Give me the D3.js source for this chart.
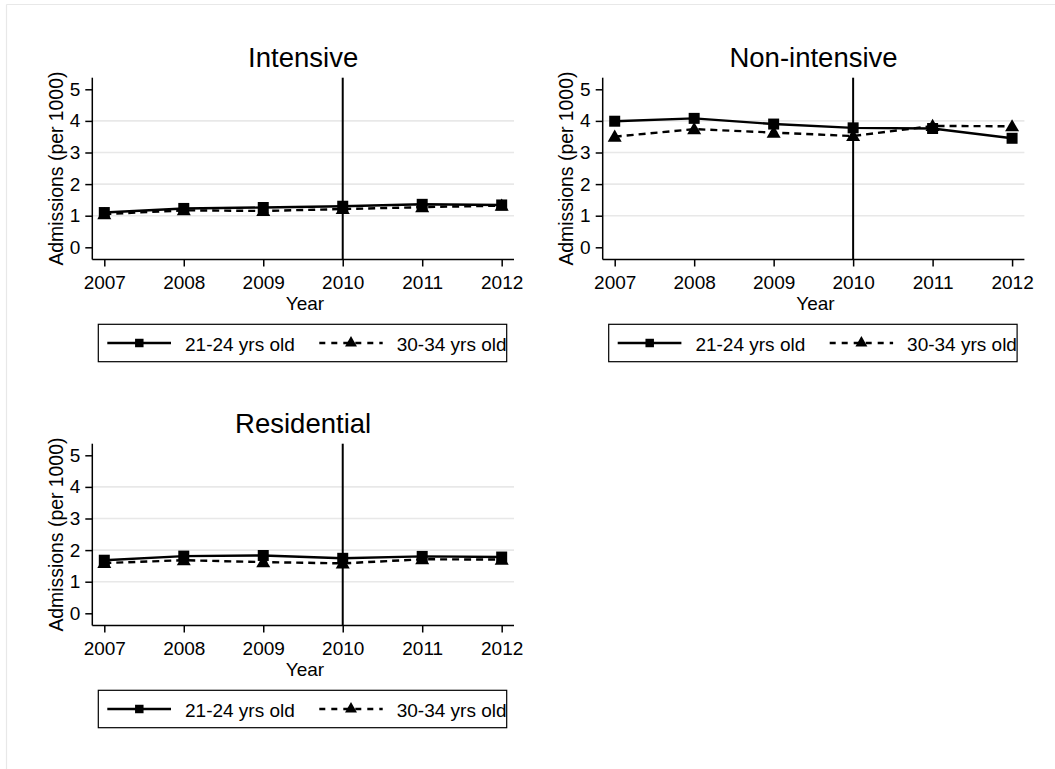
<!DOCTYPE html>
<html>
<head>
<meta charset="utf-8">
<script src="https://cdn.jsdelivr.net/npm/d3@7"></script>
<style>
  html, body { margin: 0; padding: 0; background: #fff; }
  svg { display: block; font-family: "Liberation Sans", Arial, sans-serif; }
</style>
</head>
<body>
<svg id="chart" width="1055" height="769"></svg>
<script>
// ---- Data ----
const years = [2007, 2008, 2009, 2010, 2011, 2012];
const yTicks = [0, 1, 2, 3, 4, 5];
const gridValues = [1, 2, 3, 4];
const seriesNames = ["21-24 yrs old", "30-34 yrs old"];
const panelTitles = ["Intensive", "Non-intensive", "Residential"];

const intensive_21_24 = [1.10, 1.23, 1.26, 1.30, 1.36, 1.34];
const intensive_30_34 = [1.05, 1.17, 1.15, 1.21, 1.27, 1.32];
const nonint_21_24 = [3.99, 4.08, 3.90, 3.78, 3.76, 3.45];
const nonint_30_34 = [3.50, 3.74, 3.63, 3.52, 3.84, 3.83];
const resid_21_24 = [1.68, 1.81, 1.83, 1.74, 1.80, 1.78];
const resid_30_34 = [1.59, 1.68, 1.62, 1.58, 1.71, 1.70];
const policyYear = 2010;

const panelData = [
  [intensive_21_24, intensive_30_34],
  [nonint_21_24, nonint_30_34],
  [resid_21_24, resid_30_34]
];

// ---- Layout ----
const svg = d3.select("#chart");
const panelOffsets = [[0, 0], [510.4, 0], [0, 366]];
const base = { left: 92.3, right: 514, top: 77.7, bottom: 259.5 };
const xDomain = [2006.849, 2012.155];
const yDomain = [-0.386, 5.367];
const FS = 19;

// outer frame (light)
svg.append("line").attr("x1", 6.5).attr("x2", 6.5).attr("y1", 4.5).attr("y2", 769)
  .attr("stroke", "#e8e8e8").attr("stroke-width", 1.2);
svg.append("line").attr("x1", 6.5).attr("x2", 1055).attr("y1", 4.5).attr("y2", 4.5)
  .attr("stroke", "#e8e8e8").attr("stroke-width", 1.2);

const squareSym = d3.symbol().type(d3.symbolSquare);
const triSym = d3.symbol().type(d3.symbolTriangle);

panelTitles.forEach((title, pi) => {
  const [ox, oy] = panelOffsets[pi];
  const g = svg.append("g").attr("transform", `translate(${ox},${oy})`);
  const x = d3.scaleLinear().domain(xDomain).range([base.left, base.right]);
  const y = d3.scaleLinear().domain(yDomain).range([base.bottom, base.top]);

  // gridlines
  g.selectAll(".grid").data(gridValues).enter().append("line")
    .attr("x1", base.left).attr("x2", base.right)
    .attr("y1", d => y(d)).attr("y2", d => y(d))
    .attr("stroke", "#e8e8e8").attr("stroke-width", 1.6);

  // title
  g.append("text").attr("x", (base.left + base.right) / 2).attr("y", 67.3)
    .attr("text-anchor", "middle").attr("font-size", 27.5).attr("fill", "#000").text(title);

  // y axis
  const yAxis = d3.axisLeft(y).tickValues(yTicks).tickSize(7).tickPadding(5).tickFormat(d3.format("d"));
  const ya = g.append("g").attr("transform", `translate(${base.left},0)`).call(yAxis);
  ya.select(".domain").attr("d", `M0,${base.top}V${base.bottom}`).attr("stroke", "#000").attr("stroke-width", 1.5);
  ya.selectAll(".tick line").attr("stroke", "#000").attr("stroke-width", 1.5);
  ya.selectAll(".tick text").attr("font-size", FS).attr("fill", "#000")
    .attr("font-family", "'Liberation Sans', Arial, sans-serif");

  // x axis
  const xAxis = d3.axisBottom(x).tickValues(years).tickSize(7).tickPadding(9.5).tickFormat(d3.format("d"));
  const xa = g.append("g").attr("transform", `translate(0,${base.bottom})`).call(xAxis);
  xa.select(".domain").attr("d", `M${base.left},0H${base.right}`).attr("stroke", "#000").attr("stroke-width", 1.5);
  xa.selectAll(".tick line").attr("stroke", "#000").attr("stroke-width", 1.5);
  xa.selectAll(".tick text").attr("font-size", FS).attr("fill", "#000")
    .attr("font-family", "'Liberation Sans', Arial, sans-serif");

  // axis titles
  g.append("text").attr("x", 305).attr("y", 310).attr("text-anchor", "middle")
    .attr("font-size", FS).attr("fill", "#000").text("Year");
  g.append("text").attr("transform", `translate(62.5,${(base.top + base.bottom) / 2}) rotate(-90)`)
    .attr("text-anchor", "middle").attr("font-size", 19.4).attr("fill", "#000").text("Admissions (per 1000)");

  // policy line
  g.append("line").attr("x1", x(policyYear)).attr("x2", x(policyYear))
    .attr("y1", base.top).attr("y2", base.bottom)
    .attr("stroke", "#000").attr("stroke-width", 2);

  // series
  const [s1, s2] = panelData[pi];
  const line = d3.line().x((d, i) => x(years[i])).y(d => y(d));
  g.append("path").datum(s2).attr("d", line).attr("fill", "none")
    .attr("stroke", "#000").attr("stroke-width", 2.4).attr("stroke-dasharray", "7,5");
  g.selectAll(".tri").data(s2).enter().append("path")
    .attr("transform", (d, i) => `translate(${x(years[i])},${y(d) + 1})`)
    .attr("d", triSym.size(85)).attr("fill", "#000");
  g.append("path").datum(s1).attr("d", line).attr("fill", "none")
    .attr("stroke", "#000").attr("stroke-width", 2.4);
  g.selectAll(".sq").data(s1).enter().append("path")
    .attr("transform", (d, i) => `translate(${x(years[i])},${y(d)})`)
    .attr("d", squareSym.size(121)).attr("fill", "#000");

  // legend
  const lg = g.append("g");
  lg.append("rect").attr("x", 98.3).attr("y", 324.3).attr("width", 408.4).attr("height", 37.4)
    .attr("fill", "#fff").attr("stroke", "#000").attr("stroke-width", 1.2);
  lg.append("line").attr("x1", 107.3).attr("x2", 171).attr("y1", 343).attr("y2", 343)
    .attr("stroke", "#000").attr("stroke-width", 2.4);
  lg.append("path").attr("transform", "translate(139.3,343)").attr("d", squareSym.size(72)).attr("fill", "#000");
  lg.append("text").attr("x", 185).attr("y", 350.5).attr("font-size", FS).attr("fill", "#000").text(seriesNames[0]);
  lg.append("line").attr("x1", 319.3).attr("x2", 382.7).attr("y1", 343).attr("y2", 343)
    .attr("stroke", "#000").attr("stroke-width", 2.4).attr("stroke-dasharray", "6,6");
  lg.append("path").attr("transform", "translate(351,343)").attr("d", triSym.size(62)).attr("fill", "#000");
  lg.append("text").attr("x", 396.7).attr("y", 350.5).attr("font-size", FS).attr("fill", "#000").text(seriesNames[1]);
});
</script>
</body>
</html>
